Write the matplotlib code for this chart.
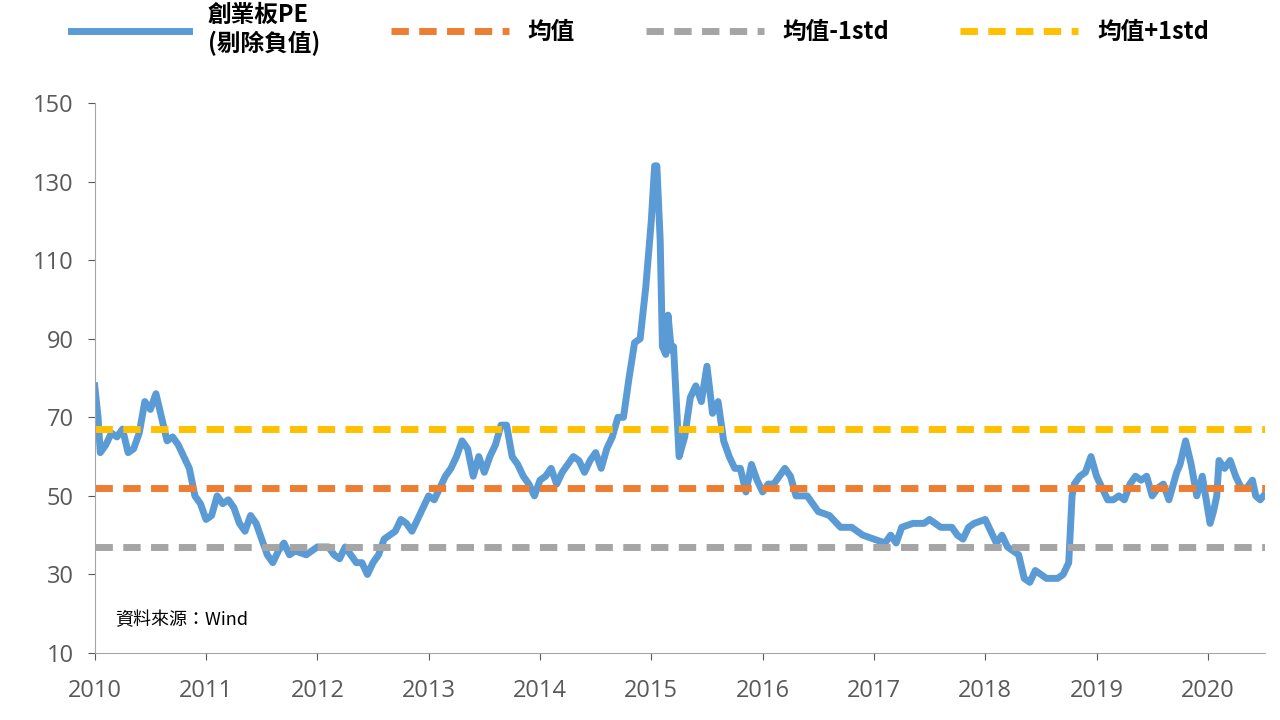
import matplotlib
matplotlib.use("Agg")
import matplotlib.pyplot as plt

plt.rcParams['font.family'] = ['Noto Sans CJK TC', 'DejaVu Sans']

t = [2010.0,2010.03,2010.05,2010.1,2010.15,2010.2,2010.25,2010.3,2010.35,2010.4,2010.45,2010.5,2010.55,2010.6,2010.65,2010.7,2010.75,2010.8,2010.85,2010.9,2010.95,
     2011.0,2011.05,2011.1,2011.15,2011.2,2011.25,2011.3,2011.35,2011.4,2011.45,2011.5,2011.55,2011.6,2011.65,2011.7,2011.75,2011.8,2011.9,
     2012.0,2012.1,2012.15,2012.2,2012.25,2012.3,2012.35,2012.4,2012.45,2012.5,2012.55,2012.6,2012.7,2012.75,2012.8,2012.85,2012.9,
     2013.0,2013.05,2013.1,2013.15,2013.2,2013.25,2013.3,2013.35,2013.4,2013.45,2013.5,2013.55,2013.6,2013.65,2013.7,2013.75,2013.8,2013.85,2013.9,2013.95,
     2014.0,2014.05,2014.1,2014.15,2014.2,2014.25,2014.3,2014.35,2014.4,2014.45,2014.5,2014.55,2014.6,2014.65,2014.7,2014.75,2014.8,2014.85,2014.9,2014.95,
     2015.0,2015.03,2015.05,2015.08,2015.1,2015.13,2015.15,2015.18,2015.2,2015.25,2015.3,2015.35,2015.4,2015.45,2015.5,2015.55,2015.6,2015.65,2015.7,2015.75,2015.8,2015.85,2015.9,2015.95,
     2016.0,2016.05,2016.1,2016.15,2016.2,2016.25,2016.3,2016.4,2016.5,2016.6,2016.7,2016.8,2016.9,
     2017.0,2017.1,2017.15,2017.2,2017.25,2017.35,2017.45,2017.5,2017.6,2017.7,2017.75,2017.8,2017.85,2017.9,
     2018.0,2018.05,2018.1,2018.15,2018.2,2018.3,2018.35,2018.4,2018.45,2018.5,2018.55,2018.6,2018.65,2018.7,2018.75,2018.78,2018.8,2018.85,2018.9,2018.95,
     2019.0,2019.05,2019.1,2019.15,2019.2,2019.25,2019.3,2019.35,2019.4,2019.45,2019.5,2019.55,2019.6,2019.65,2019.7,2019.72,2019.75,2019.8,2019.85,2019.9,2019.95,
     2020.02,2020.05,2020.08,2020.1,2020.15,2020.2,2020.25,2020.3,2020.35,2020.4,2020.43,2020.47,2020.5]
pe = [78,70,61,63,66,65,67,61,62,66,74,72,76,70,64,65,63,60,57,50,48,
      44,45,50,48,49,47,43,41,45,43,39,35,33,36,38,35,36,35,
      37,37,35,34,37,35,33,33,30,33,35,39,41,44,43,41,44,
      50,49,52,55,57,60,64,62,55,60,56,60,63,68,68,60,58,55,53,50,
      54,55,57,53,56,58,60,59,56,59,61,57,62,65,70,70,80,89,90,103,
      120,134,134,115,88,86,96,87,88,60,65,75,78,74,83,71,74,64,60,57,57,51,58,54,
      51,53,53,55,57,55,50,50,46,45,42,42,40,
      39,38,40,38,42,43,43,44,42,42,40,39,42,43,
      44,41,38,40,37,35,29,28,31,30,29,29,29,30,33,50,53,55,56,60,
      55,52,49,49,50,49,53,55,54,55,50,52,53,49,54,56,58,64,58,50,55,
      43,46,50,59,57,59,55,52,52,54,50,49,50]

mean_v, lo_v, hi_v = 52, 37, 67
years = list(range(2010, 2021))
labels = ["創業板PE\n(剔除負值)", "均值", "均值-1std", "均值+1std"]

fig = plt.figure(figsize=(12.8, 7.2), dpi=100)
ax = fig.add_axes([0.074, 0.093, 0.914, 0.764])
ax.plot(t, pe, color='#5B9BD5', lw=5, label=labels[0])
ax.axhline(mean_v, color='#ED7D31', lw=5, ls=(0, (2.5, 1.5)), label=labels[1])
ax.axhline(lo_v, color='#A5A5A5', lw=5, ls=(0, (2.5, 1.5)), label=labels[2])
ax.axhline(hi_v, color='#FFC000', lw=5, ls=(0, (2.5, 1.5)), label=labels[3])
ax.set_xlim(2010, 2020.51)
ax.set_ylim(10, 150)
ax.set_yticks(range(10, 151, 20))
ax.set_xticks(years)
ax.set_xticklabels([str(y) for y in years])
ax.tick_params(colors='#595959', labelsize=17, length=5)
ax.tick_params(axis='x', pad=14)
ax.tick_params(axis='y', pad=10)
for lab in ax.get_xticklabels() + ax.get_yticklabels():
    lab.set_family('Open Sans')
for s in ['top', 'right']:
    ax.spines[s].set_visible(False)
for s in ['left', 'bottom']:
    ax.spines[s].set_color('#A6A6A6')
ax.text(2010.18, 17, "資料來源：Wind", fontsize=13, color='black')
leg = fig.legend(loc='upper center', bbox_to_anchor=(0.5, 1.025), ncol=4, frameon=False,
           prop={'size': 17, 'weight': 'bold'}, handlelength=5, columnspacing=3)
fig.savefig("out.png", dpi=100)
